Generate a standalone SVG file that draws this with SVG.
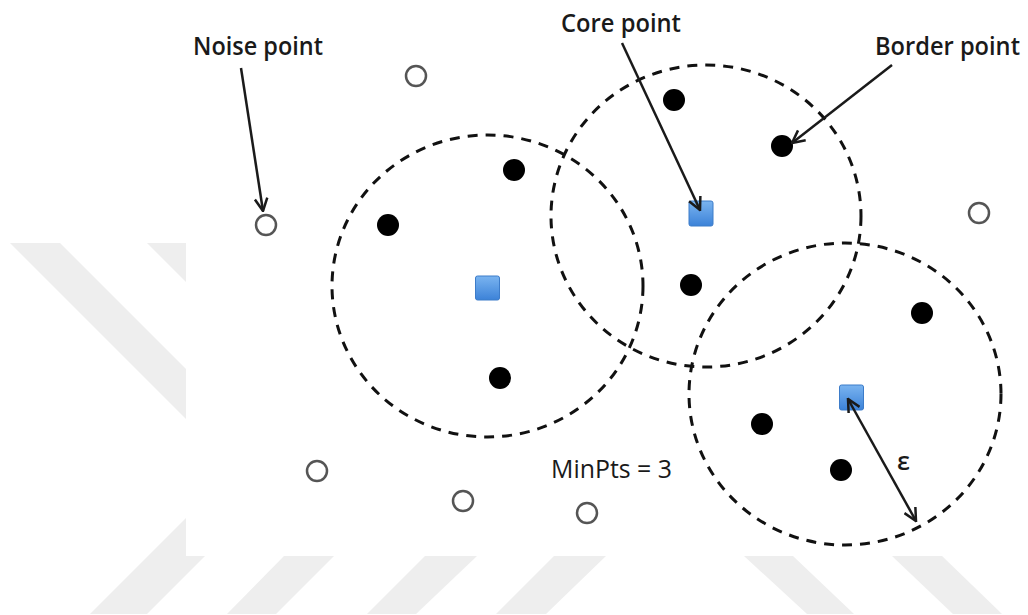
<svg xmlns="http://www.w3.org/2000/svg" width="1028" height="615" viewBox="0 0 1028 615">
  <style>
    .stripe { fill: #eeeeee; }
    .hood { fill: none; stroke: #111; stroke-width: 3; stroke-dasharray: 10 8; }
    .border { fill: #000; }
    .noise { fill: #fff; stroke: #555; stroke-width: 2.5; }
    .core { fill: url(#blue); stroke: #3d7cc9; stroke-width: 1; }
    .lbl { font-family: "Open Sans", "Liberation Sans", sans-serif; font-size: 25px; font-weight: 600; fill: #1a1a1a; }
    .reg { font-weight: 400; }
    .arrow { fill: none; stroke: #1a1a1a; stroke-width: 2.5; }
  </style>
  <defs>
    <linearGradient id="blue" x1="0" y1="0" x2="0" y2="1">
      <stop offset="0" stop-color="#7ab4f0"/>
      <stop offset="1" stop-color="#3c82d8"/>
    </linearGradient>
    <marker id="chev" viewBox="0 0 12 12" refX="11" refY="6" markerWidth="15" markerHeight="15" markerUnits="userSpaceOnUse" orient="auto-start-reverse">
      <path d="M1,1 L11,6 L1,11" fill="none" stroke="#1a1a1a" stroke-width="2"/>
    </marker>
  </defs>

  <rect width="1028" height="615" fill="#fff"/>
  <g id="watermark">
    <polygon class="stripe" points="10,243 60,243 250,433 200,433"/>
    <polygon class="stripe" points="147,243 197,243 260,306 210,306"/>
    <polygon class="stripe" points="90,614 147,614 297,464 240,464"/>
    <polygon class="stripe" points="284,556 334,556 276,614 227,614"/>
    <polygon class="stripe" points="425,556 477,556 416,614 367,614"/>
    <polygon class="stripe" points="554,556 606,556 546,614 496,614"/>
    <polygon class="stripe" points="744,556 793,556 854,614 807,614"/>
    <polygon class="stripe" points="892,556 942,556 1002,614 953,614"/>
    <rect x="186" y="0" width="842" height="556" fill="#fff"/>
  </g>

  <g id="neighborhood-1"><ellipse class="hood" cx="487.5" cy="286" rx="155.5" ry="151"/></g>
  <g id="neighborhood-2"><ellipse class="hood" cx="706" cy="216" rx="155" ry="151"/></g>
  <g id="neighborhood-3"><ellipse class="hood" cx="845" cy="394" rx="156" ry="151"/></g>

  <g id="core-1"><rect class="core" x="475.5" y="276" width="24" height="24" rx="2"/></g>
  <g id="core-2"><rect class="core" x="689" y="201" width="24" height="25" rx="2"/></g>
  <g id="core-3"><rect class="core" x="839.5" y="385" width="24" height="25" rx="2"/></g>

  <g id="point-a"><circle class="border" cx="514" cy="170" r="11"/></g>
  <g id="point-b"><circle class="border" cx="388" cy="225" r="11"/></g>
  <g id="point-c"><circle class="border" cx="500" cy="378" r="11"/></g>
  <g id="point-d"><circle class="border" cx="674" cy="100" r="11"/></g>
  <g id="point-e"><circle class="border" cx="782" cy="146" r="11"/></g>
  <g id="point-f"><circle class="border" cx="691" cy="285" r="11"/></g>
  <g id="point-g"><circle class="border" cx="922" cy="313" r="11"/></g>
  <g id="point-h"><circle class="border" cx="762" cy="424" r="11"/></g>
  <g id="point-i"><circle class="border" cx="841" cy="470" r="11"/></g>

  <g id="noise-1"><circle class="noise" cx="416" cy="76" r="10"/></g>
  <g id="noise-2"><circle class="noise" cx="266" cy="225" r="10"/></g>
  <g id="noise-3"><circle class="noise" cx="979" cy="213" r="10"/></g>
  <g id="noise-4"><circle class="noise" cx="317" cy="471" r="10"/></g>
  <g id="noise-5"><circle class="noise" cx="463" cy="501" r="10"/></g>
  <g id="noise-6"><circle class="noise" cx="587" cy="513" r="10"/></g>

  <g id="connectors">
    <line class="arrow" x1="241" y1="68" x2="263" y2="211" marker-end="url(#chev)"/>
    <line class="arrow" x1="622" y1="43" x2="700" y2="210" marker-end="url(#chev)"/>
    <line class="arrow" x1="892" y1="65" x2="792" y2="143" marker-end="url(#chev)"/>
    <line class="arrow" x1="848" y1="399" x2="916" y2="521" marker-start="url(#chev)" marker-end="url(#chev)"/>
  </g>

  <g id="labels">
    <text class="lbl" x="193" y="55" textLength="130" lengthAdjust="spacingAndGlyphs">Noise point</text>
    <text class="lbl" x="561" y="32" textLength="120" lengthAdjust="spacingAndGlyphs">Core point</text>
    <text class="lbl" x="875" y="55" textLength="145" lengthAdjust="spacingAndGlyphs">Border point</text>
    <text class="lbl reg" x="551" y="478" textLength="121" lengthAdjust="spacingAndGlyphs">MinPts = 3</text>
    <text class="lbl" x="897" y="470" font-size="28">ε</text>
  </g>
</svg>
